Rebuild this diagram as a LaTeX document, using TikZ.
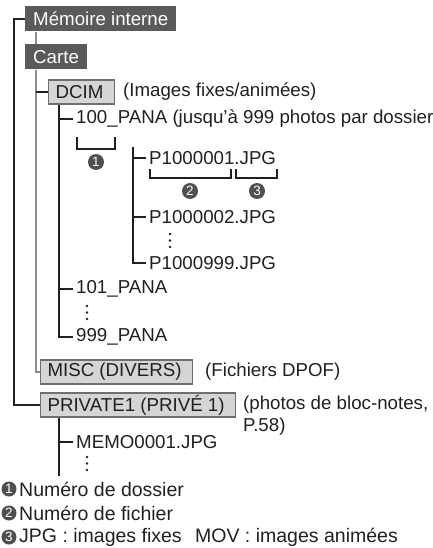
\documentclass[tikz,border=0pt]{standalone}
\usepackage{fontspec}
\setmainfont{Liberation Sans}
\usetikzlibrary{positioning}
\definecolor{ink}{HTML}{231F20}
\definecolor{darkbox}{HTML}{5A5A5A}
\definecolor{lightbox}{HTML}{D5D5D5}
\definecolor{boxedge}{HTML}{6F6F6F}
\definecolor{trunkgray}{HTML}{8C8C8C}
\definecolor{bullet}{HTML}{4F4F4F}
\newcommand\lbl{\fontsize{18.7}{22}\selectfont}
\newcommand\legendfont{\fontsize{19.5}{22}\selectfont}
\tikzset{
  darkfolder/.style={fill=darkbox,text=white,anchor=west,inner xsep=8pt,
                     inner ysep=0pt,minimum height=25pt,font=\lbl},
  lightfolder/.style={draw=boxedge,fill=lightbox,text=ink,line width=1.1pt,
                      anchor=west,inner xsep=7pt,inner ysep=0pt,
                      minimum height=24pt,font=\lbl,
                      execute at end node=\hspace{4pt}},
  filetext/.style={anchor=west,inner ysep=0pt,inner xsep=3pt,text=ink,font=\lbl},
  numdot/.style={circle,fill=bullet,text=white,inner sep=0pt,minimum size=16pt,
                 font=\fontsize{13.5}{13.5}\selectfont},
  treeline/.style={draw=ink,line width=1.4pt},
  trunkline/.style={draw=trunkgray,line width=1.5pt},
  bracketline/.style={draw=ink,line width=2pt}
}
\begin{document}
\begin{tikzpicture}[x=1pt,y=-1pt]
    \useasboundingbox (0,0) rectangle (432,548);
    % folders
    \node[darkfolder] (mem) at (25,19) {Mémoire interne};
    \node[darkfolder] (carte) at (25,57) {Carte};
    \node[lightfolder] (dcim) at (48,92) {DCIM};
    \node[filetext] (dcimnote) at (120,92) {(Images fixes/animées)};
    \node[filetext] (pana100) at (73,119) {100\_PANA (jusqu’à 999 photos par dossier)};
    \node[filetext] (p001) at (146,158) {P1000001.JPG};
    \node[filetext] (p002) at (146,217) {P1000002.JPG};
    \node[filetext] (p999) at (146,263) {P1000999.JPG};
    \node[filetext] (pana101) at (73,289) {101\_PANA};
    \node[filetext] (pana999) at (73,337) {999\_PANA};
    \node[lightfolder] (misc) at (40,372) {MISC (DIVERS)};
    \node[filetext] (miscnote) at (202,372) {(Fichiers DPOF)};
    \node[lightfolder] (priv) at (40,405) {PRIVATE1 (PRIVÉ 1)};
    \node[filetext,align=left] (privnote) at (240,416) {(photos de bloc-notes,\\P.58)};
    \node[filetext] (memo) at (73,442) {MEMO0001.JPG};
    \coordinate (ctrunk) at (36,0);
    \coordinate (dtrunk) at (59,0);
    \coordinate (ptrunk) at (133,147);
    \coordinate (memoend) at (59,476);
    % tree lines
    \draw[treeline,line width=1.2pt] (mem.west) -- ++(-11,0) |- (priv.west);
    \draw[trunkline] (mem.south -| ctrunk) -- (carte.north -| ctrunk);
    \draw[trunkline] (carte.south -| ctrunk) |- (misc.west);
    \draw[treeline,line width=2pt] (dcim.west) -- (dcim.west -| ctrunk);
    \draw[treeline] (dcim.south -| dtrunk) |- (pana999.west);
    \draw[treeline] (pana100.west) -- (pana100.west -| dtrunk);
    \draw[treeline] (pana101.west) -- (pana101.west -| dtrunk);
    \draw[treeline,line width=1.1pt] (ptrunk) |- (p999.west);
    \draw[treeline,line width=1.1pt] (p001.west) -- (p001.west -| ptrunk);
    \draw[treeline,line width=1.1pt] (p002.west) -- (p002.west -| ptrunk);
    \draw[treeline,line width=2.4pt] (priv.south -| dtrunk) -- (memoend);
    \draw[treeline,line width=2pt] (memo.west) -- (memo.west -| dtrunk);
    % continuation dots
    \foreach \dx/\dy in {170/234,87/306,87/457}
      \foreach \k in {0,1,2}
        \fill[ink] (\dx,\dy+6.5*\k) circle (1.4);
    % brackets and numbers
    \draw[bracketline] (77,137) |- (115,149) -- (115,137);
    \draw[bracketline] (150,169) |- (231,178) -- (231,169);
    \draw[bracketline] (236,169) |- (277,178) -- (277,169);
    \node[numdot] (n1) at (96,162) {1};
    \node[numdot] (n2) at (190,191) {2};
    \node[numdot] (n3) at (257,191) {3};
    % legend
    \node[numdot,minimum size=15pt] (l1) at (9,489) {1};
    \node[numdot,minimum size=15pt] (l2) at (9,513) {2};
    \node[numdot,minimum size=15pt] (l3) at (9,537) {3};
    \node[filetext,inner xsep=0pt,font=\legendfont] (t1) at (19,489) {Numéro de dossier};
    \node[filetext,inner xsep=0pt,font=\legendfont] (t2) at (19,513) {Numéro de fichier};
    \node[filetext,inner xsep=0pt,font=\legendfont] (t3) at (19,537) {JPG : images fixes\hspace{8pt} MOV : images animées};
  \end{tikzpicture}
\end{document}
